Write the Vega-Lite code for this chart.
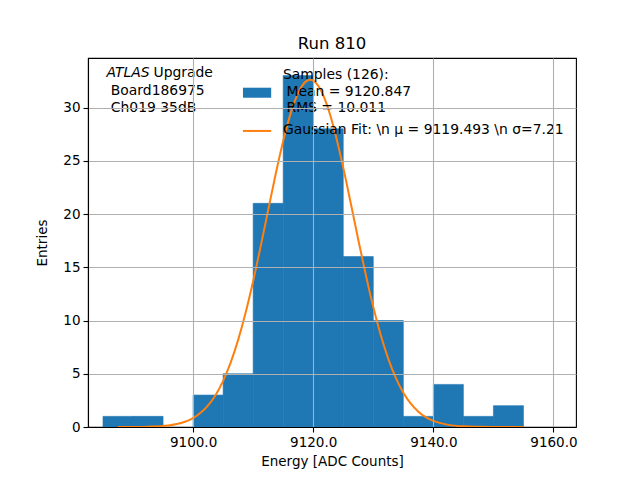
{
  "$schema": "https://vega.github.io/schema/vega-lite/v6.json",
  "autosize": {"type": "none"},
  "width": 488,
  "height": 369,
  "padding": {"left": 88, "top": 58, "right": 64, "bottom": 53},
  "background": "white",
  "title": {
    "text": "Run 810",
    "font": "DejaVu Sans",
    "fontSize": 16.5,
    "fontWeight": "normal",
    "color": "black",
    "offset": 6
  },
  "datasets": {
    "bins": [
      {"lo": 9085, "hi": 9090, "entries": 1},
      {"lo": 9090, "hi": 9095, "entries": 1},
      {"lo": 9100, "hi": 9105, "entries": 3},
      {"lo": 9105, "hi": 9110, "entries": 5},
      {"lo": 9110, "hi": 9115, "entries": 21},
      {"lo": 9115, "hi": 9120, "entries": 33},
      {"lo": 9120, "hi": 9125, "entries": 28},
      {"lo": 9125, "hi": 9130, "entries": 16},
      {"lo": 9130, "hi": 9135, "entries": 10},
      {"lo": 9135, "hi": 9140, "entries": 1},
      {"lo": 9140, "hi": 9145, "entries": 4},
      {"lo": 9145, "hi": 9150, "entries": 1},
      {"lo": 9150, "hi": 9155, "entries": 2}
    ],
    "fit": [
      {"energy": 9087.5, "entries": 0.002},
      {"energy": 9090, "entries": 0.008},
      {"energy": 9092.5, "entries": 0.03},
      {"energy": 9095, "entries": 0.1},
      {"energy": 9097.5, "entries": 0.31},
      {"energy": 9100, "entries": 0.84},
      {"energy": 9101.25, "entries": 1.33},
      {"energy": 9102.5, "entries": 2.03},
      {"energy": 9103.75, "entries": 3.01},
      {"energy": 9105, "entries": 4.33},
      {"energy": 9106.25, "entries": 6.04},
      {"energy": 9107.5, "entries": 8.18},
      {"energy": 9108.75, "entries": 10.75},
      {"energy": 9110, "entries": 13.71},
      {"energy": 9111.25, "entries": 16.97},
      {"energy": 9112.5, "entries": 20.37},
      {"energy": 9113.75, "entries": 23.75},
      {"energy": 9115, "entries": 26.85},
      {"energy": 9116.25, "entries": 29.47},
      {"energy": 9117.5, "entries": 31.38},
      {"energy": 9118.75, "entries": 32.43},
      {"energy": 9119.5, "entries": 32.6},
      {"energy": 9120, "entries": 32.52},
      {"energy": 9121.25, "entries": 31.64},
      {"energy": 9122.5, "entries": 29.88},
      {"energy": 9123.75, "entries": 27.38},
      {"energy": 9125, "entries": 24.35},
      {"energy": 9126.25, "entries": 21.01},
      {"energy": 9127.5, "entries": 17.59},
      {"energy": 9128.75, "entries": 14.29},
      {"energy": 9130, "entries": 11.27},
      {"energy": 9131.25, "entries": 8.62},
      {"energy": 9132.5, "entries": 6.4},
      {"energy": 9133.75, "entries": 4.61},
      {"energy": 9135, "entries": 3.22},
      {"energy": 9136.25, "entries": 2.19},
      {"energy": 9137.5, "entries": 1.44},
      {"energy": 9138.75, "entries": 0.92},
      {"energy": 9140, "entries": 0.57},
      {"energy": 9142.5, "entries": 0.2},
      {"energy": 9145, "entries": 0.06},
      {"energy": 9147.5, "entries": 0.02},
      {"energy": 9150, "entries": 0.004},
      {"energy": 9155, "entries": 0.0}
    ]
  },
  "layer": [
    {
      "data": {"name": "bins"},
      "mark": {"type": "rect", "color": "#1f77b4", "stroke": "#1f77b4", "strokeWidth": 0.6},
      "encoding": {
        "x": {
          "field": "lo",
          "type": "quantitative",
          "scale": {"domain": [9082.5, 9163.75], "nice": false, "zero": false},
          "axis": {
            "title": "Energy [ADC Counts]",
            "values": [9100, 9120, 9140, 9160],
            "format": ".1f",
            "grid": true,
            "zindex": 1
          }
        },
        "x2": {"field": "hi"},
        "y": {
          "field": "entries",
          "type": "quantitative",
          "scale": {"domain": [0, 34.65], "nice": false},
          "axis": {
            "title": "Entries",
            "values": [0, 5, 10, 15, 20, 25, 30],
            "format": "d",
            "grid": true,
            "zindex": 1
          }
        },
        "y2": {"datum": 0}
      }
    },
    {
      "data": {"name": "fit"},
      "mark": {"type": "line", "color": "#ff7f0e", "strokeWidth": 2, "interpolate": "monotone"},
      "encoding": {
        "x": {"field": "energy", "type": "quantitative"},
        "y": {"field": "entries", "type": "quantitative"}
      }
    },
    {
      "data": {"values": [{"x": 9108.3, "x2": 9113.0, "y": 31.86, "y2": 30.92}]},
      "mark": {"type": "rect", "color": "#1f77b4"},
      "encoding": {
        "x": {"field": "x", "type": "quantitative"},
        "x2": {"field": "x2"},
        "y": {"field": "y", "type": "quantitative"},
        "y2": {"field": "y2"}
      }
    },
    {
      "data": {"values": [{"x": 9108.3, "y": 27.8}, {"x": 9113.0, "y": 27.8}]},
      "mark": {"type": "line", "color": "#ff7f0e", "strokeWidth": 2},
      "encoding": {
        "x": {"field": "x", "type": "quantitative"},
        "y": {"field": "y", "type": "quantitative"}
      }
    },
    {
      "data": {"values": [{"x": 9085.6, "y": 33.2, "label": "ATLAS"}]},
      "mark": {"type": "text", "align": "left", "baseline": "middle", "font": "DejaVu Sans", "fontSize": 13.9, "fontStyle": "italic", "color": "black"},
      "encoding": {
        "x": {"field": "x", "type": "quantitative"},
        "y": {"field": "y", "type": "quantitative"},
        "text": {"field": "label"}
      }
    },
    {
      "data": {"values": [
        {"x": 9093.4, "y": 33.2, "label": "Upgrade"},
        {"x": 9086.3, "y": 31.55, "label": "Board186975"},
        {"x": 9086.3, "y": 30.0, "label": "Ch019 35dB"},
        {"x": 9114.95, "y": 33.05, "label": "Samples (126):"},
        {"x": 9115.55, "y": 31.49, "label": "Mean = 9120.847"},
        {"x": 9115.55, "y": 29.92, "label": "RMS = 10.011"},
        {"x": 9114.95, "y": 27.85, "label": "Gaussian Fit: \\n μ = 9119.493 \\n σ=7.21"}
      ]},
      "mark": {"type": "text", "align": "left", "baseline": "middle", "font": "DejaVu Sans", "fontSize": 13.9, "color": "black"},
      "encoding": {
        "x": {"field": "x", "type": "quantitative"},
        "y": {"field": "y", "type": "quantitative"},
        "text": {"field": "label"}
      }
    }
  ],
  "config": {
    "view": {"stroke": "black", "strokeWidth": 1.1},
    "axis": {
      "labelFont": "DejaVu Sans",
      "titleFont": "DejaVu Sans",
      "labelFontSize": 13.5,
      "titleFontSize": 13.5,
      "titleFontWeight": "normal",
      "labelColor": "black",
      "titleColor": "black",
      "domainColor": "black",
      "domainWidth": 1.1,
      "tickColor": "black",
      "tickWidth": 1.1,
      "tickSize": 5,
      "labelPadding": 3,
      "gridColor": "#b0b0b0",
      "gridWidth": 1.1,
      "gridOpacity": 1
    },
    "axisX": {"titlePadding": 6},
    "axisY": {"titlePadding": 13}
  }
}
